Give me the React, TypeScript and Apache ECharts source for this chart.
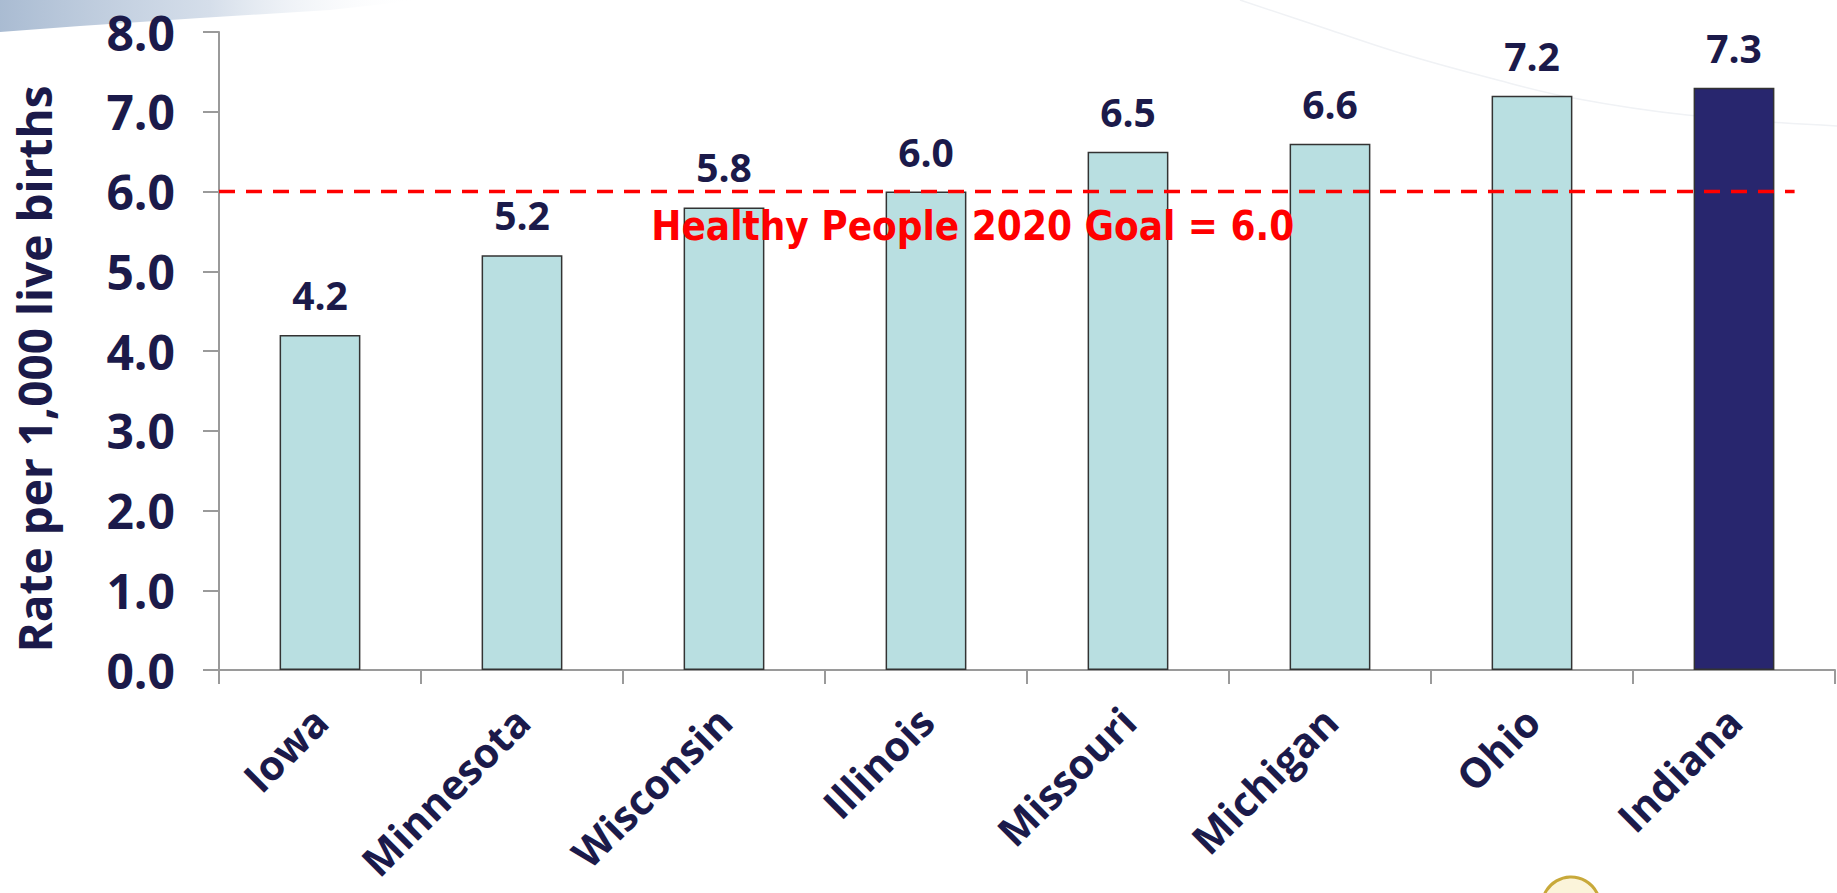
import React, { useEffect, useRef } from "react";
import * as echarts from "echarts";

const states = ["Iowa", "Minnesota", "Wisconsin", "Illinois", "Missouri", "Michigan", "Ohio", "Indiana"];
const rates = [4.2, 5.2, 5.8, 6.0, 6.5, 6.6, 7.2, 7.3];
const highlightState = "Indiana";
const goalValue = 6.0;
const goalLine = [[0, 6.0], [7.8, 6.0]];
const goalText = "Healthy People 2020 Goal = 6.0";
const yTicks = { min: 0, max: 8, interval: 1 };

const NAVY = "#1b1a4a";

export default function App() {
  const ref = useRef<HTMLDivElement>(null);
  useEffect(() => {
    document.body.style.margin = "0";
    const chart = echarts.init(ref.current!, null, { renderer: "svg" });
    chart.setOption({
      animation: false,
      backgroundColor: "#ffffff",
      graphic: [
        {
          type: "polygon",
          shape: { points: [[0, 0], [420, 0], [330, 10], [200, 18], [80, 26], [0, 32]] },
          style: {
            fill: new echarts.graphic.LinearGradient(0, 0, 1, 0, [
              { offset: 0, color: "rgba(160,180,205,0.9)" },
              { offset: 0.5, color: "rgba(195,208,225,0.7)" },
              { offset: 1, color: "rgba(255,255,255,0)" },
            ]),
          },
          silent: true,
          z: -10,
        },
        {
          type: "polyline",
          shape: { points: [[1240, 0], [1330, 30], [1400, 53], [1490, 78], [1573, 98], [1687, 115], [1837, 126]], smooth: 0.4 },
          style: { stroke: "#f0f2f5", lineWidth: 1.5, fill: "none" },
          silent: true,
          z: -10,
        },
        {
          type: "circle",
          shape: { cx: 1571, cy: 906, r: 29 },
          style: { fill: "#fbf4da", stroke: "#c8a93a", lineWidth: 3 },
          silent: true,
        },
      ],
      grid: { left: 219, right: 2, top: 32, bottom: 223, containLabel: false, outerBoundsMode: "none" },
      xAxis: [
        {
          type: "category",
          data: states,
          boundaryGap: true,
          axisLine: { lineStyle: { color: "#9a9a9a", width: 2 } },
          axisTick: { show: true, length: 14, lineStyle: { color: "#9a9a9a", width: 2 } },
          axisLabel: {
            rotate: 45,
            margin: 44,
            interval: 0,
            color: NAVY,
            fontFamily: "Open Sans",
            fontWeight: 700,
            fontSize: 41,
            lineHeight: 42,
          },
        },
        {
          type: "value",
          min: 0,
          max: 8,
          show: false,
        },
      ],
      yAxis: {
        type: "value",
        min: yTicks.min,
        max: yTicks.max,
        interval: yTicks.interval,
        splitLine: { show: false },
        axisLine: { show: true, lineStyle: { color: "#9a9a9a", width: 2 } },
        axisTick: { show: true, length: 16, lineStyle: { color: "#9a9a9a", width: 2 } },
        axisLabel: {
          margin: 44,
          color: NAVY,
          fontFamily: "Open Sans",
          fontWeight: 700,
          fontSize: 48,
          formatter: (v: number) => v.toFixed(1),
        },
        name: "Rate per 1,000 live births",
        nameLocation: "middle",
        nameRotate: 90,
        nameGap: 162,
        nameTextStyle: {
          color: NAVY,
          fontFamily: "Open Sans",
          fontWeight: 700,
          fontSize: 46,
          padding: [0, 36, 0, 0],
        },
      },
      series: [
        {
          type: "bar",
          xAxisIndex: 0,
          barWidth: "40%",
          data: states.map((s, i) => ({
            value: rates[i],
            itemStyle: { color: s === highlightState ? "#28266e" : "#b9dfe1" },
          })),
          itemStyle: { borderColor: "#333333", borderWidth: 1.5 },
          label: {
            show: true,
            position: "top",
            distance: 21,
            color: NAVY,
            fontFamily: "Open Sans",
            fontWeight: 700,
            fontSize: 39,
            formatter: (p: any) => Number(p.value).toFixed(1),
          },
          z: 2,
        },
        {
          type: "line",
          xAxisIndex: 1,
          data: goalLine,
          symbol: "none",
          lineStyle: { color: "#ff0000", width: 3.5, type: [16, 11] },
          z: 3,
          markLine: {
            silent: true,
            symbol: "none",
            lineStyle: { color: "transparent", width: 0 },
            label: {
              show: true,
              position: "insideMiddleBottom",
              distance: 14,
              color: "#ff0000",
              fontFamily: "DejaVu Sans Condensed",
              fontWeight: "bold",
              fontSize: 40,
              padding: [0, 68, 0, 0],
              formatter: goalText,
            },
            data: [[{ coord: [goalLine[0][0], goalValue] }, { coord: [goalLine[1][0], goalValue] }]],
          },
        },
      ],
    });
    return () => chart.dispose();
  }, []);
  return <div ref={ref} style={{ position: "absolute", left: 0, top: 0, width: 1837, height: 893 }} />;
}
